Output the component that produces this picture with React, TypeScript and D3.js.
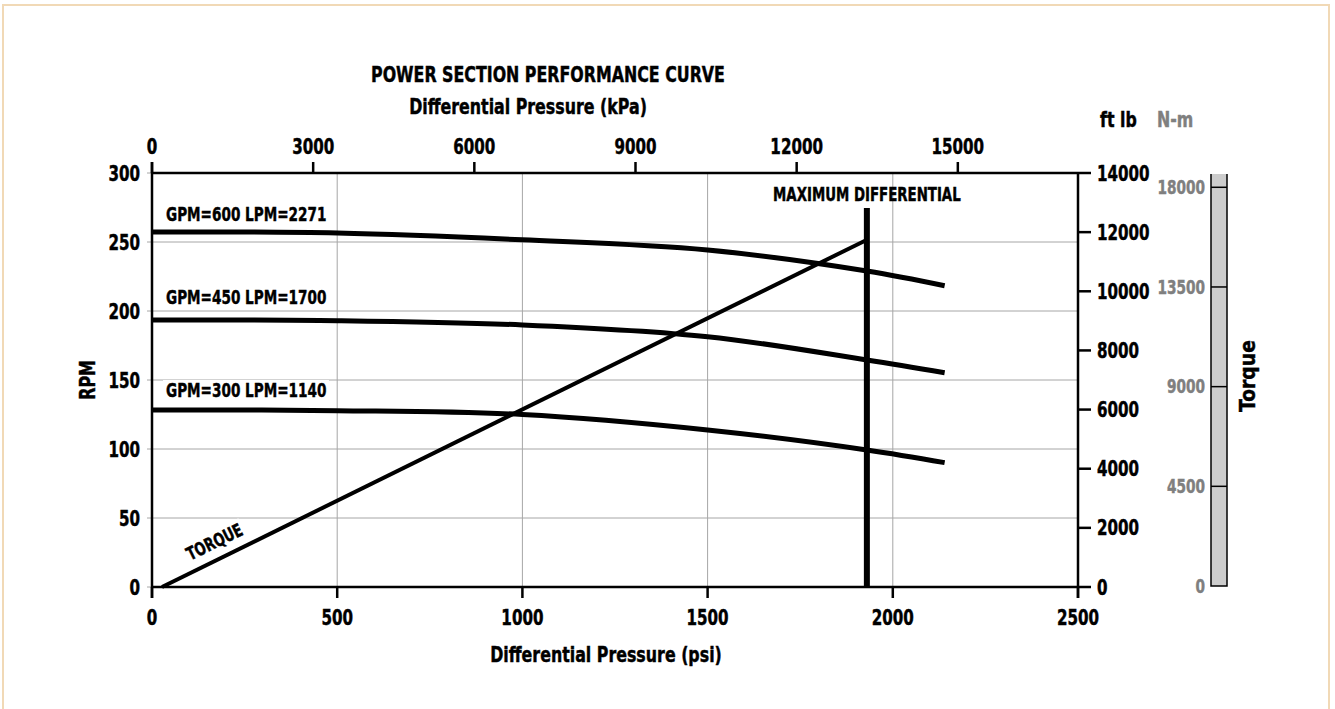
import React, { useEffect, useRef } from 'react';
import * as d3 from 'd3';

// psi positions where the curves were read
const psiPoints = [0, 500, 1000, 1500, 1930, 2140];
const rpm600 = [257.2, 256.5, 251.6, 244.2, 229, 218.3];
const rpm450 = [193.5, 193, 189.9, 181.4, 164.5, 155.3];
const rpm300 = [128.3, 127.8, 125, 113.8, 99.3, 90.1];
const curveLabels = ['GPM=600 LPM=2271', 'GPM=450 LPM=1700', 'GPM=300 LPM=1140'];

// torque (ft lb) against psi
const torquePsi = [27, 1925];
const torqueFtLb = [0, 11710];

const maxDiffPsi = 1930;
const maxDiffTopRpm = 274.6;

const psiTicks = [0, 500, 1000, 1500, 2000, 2500];
const kpaTicks = [0, 3000, 6000, 9000, 12000, 15000];
const rpmTicks = [0, 50, 100, 150, 200, 250, 300];
const ftLbTicks = [0, 2000, 4000, 6000, 8000, 10000, 12000, 14000];
const nmTicks = [0, 4500, 9000, 13500, 18000];
const nmTop = 18600;

const FONT = "'DejaVu Sans Condensed', 'DejaVu Sans', sans-serif";

export default function App() {
  const ref = useRef<SVGSVGElement | null>(null);

  useEffect(() => {
    const svg = d3.select(ref.current);
    svg.selectAll('*').remove();

    const left = 152, right = 1078, top = 173, bottom = 587;
    const x = d3.scaleLinear().domain([0, 2500]).range([left, right]);
    const xKpa = d3.scaleLinear().domain([0, 2500 * 6.89476]).range([left, right]);
    const y = d3.scaleLinear().domain([0, 300]).range([bottom, top]);
    const yFt = d3.scaleLinear().domain([0, 14000]).range([bottom, top]);
    const yNm = d3.scaleLinear().domain([0, nmTop]).range([bottom - 1, top + 1]);

    // frame
    svg.append('rect')
      .attr('x', 3).attr('y', 5).attr('width', 1326).attr('height', 710)
      .attr('fill', 'none').attr('stroke', '#f1d9b6').attr('stroke-width', 2);

    const g = svg.append('g').style('font-family', FONT).style('font-weight', 'bold');

    // grid
    g.append('g').selectAll('line')
      .data(psiTicks.filter(d => d > 0 && d < 2500))
      .join('line')
      .attr('x1', d => x(d)).attr('x2', d => x(d))
      .attr('y1', top).attr('y2', bottom)
      .attr('stroke', '#a6a6a6').attr('stroke-width', 1);
    g.append('g').selectAll('line')
      .data(rpmTicks)
      .join('line')
      .attr('x1', left - 5).attr('x2', d => (d > 0 && d < 300 ? right : left))
      .attr('y1', d => y(d)).attr('y2', d => y(d))
      .attr('stroke', '#a6a6a6').attr('stroke-width', 1);

    // axis lines
    const axis = g.append('g').attr('stroke', '#000').attr('stroke-width', 2.5);
    axis.append('line').attr('x1', left).attr('x2', left).attr('y1', top - 11).attr('y2', bottom + 11);
    axis.append('line').attr('x1', right).attr('x2', right).attr('y1', top).attr('y2', bottom + 11);
    axis.append('line').attr('x1', left).attr('x2', right).attr('y1', top).attr('y2', top);
    axis.append('line').attr('x1', left).attr('x2', right).attr('y1', bottom).attr('y2', bottom);

    axis.selectAll('.bt').data(psiTicks).join('line').attr('class', 'bt')
      .attr('x1', d => x(d)).attr('x2', d => x(d)).attr('y1', bottom).attr('y2', bottom + 11);
    axis.selectAll('.tt').data(kpaTicks).join('line').attr('class', 'tt')
      .attr('x1', d => xKpa(d)).attr('x2', d => xKpa(d)).attr('y1', top - 11).attr('y2', top);
    axis.selectAll('.rt').data(ftLbTicks).join('line').attr('class', 'rt')
      .attr('x1', right).attr('x2', right + 13).attr('y1', d => yFt(d)).attr('y2', d => yFt(d));

    // tick labels
    const tickSize = 21;
    g.append('g').selectAll('text').data(psiTicks).join('text')
      .attr('x', d => x(d)).attr('y', 625).attr('text-anchor', 'middle')
      .attr('font-size', tickSize).text(d => d);
    g.append('g').selectAll('text').data(kpaTicks).join('text')
      .attr('x', d => xKpa(d)).attr('y', 154).attr('text-anchor', 'middle')
      .attr('font-size', tickSize).text(d => d);
    g.append('g').selectAll('text').data(rpmTicks).join('text')
      .attr('x', 140).attr('y', d => y(d)).attr('dy', '0.36em').attr('text-anchor', 'end')
      .attr('font-size', tickSize).text(d => d);
    g.append('g').selectAll('text').data(ftLbTicks).join('text')
      .attr('x', 1097).attr('y', d => yFt(d)).attr('dy', '0.36em').attr('text-anchor', 'start')
      .attr('font-size', tickSize).text(d => d);

    // N-m bar
    const barX0 = 1211, barX1 = 1227;
    g.append('rect')
      .attr('x', barX0).attr('y', yNm(nmTop)).attr('width', barX1 - barX0)
      .attr('height', yNm(0) - yNm(nmTop)).attr('fill', '#cccccc');
    g.append('path')
      .attr('d', `M${barX0},${yNm(nmTop)}V${yNm(0)}H${barX1}V${yNm(nmTop)}`)
      .attr('fill', 'none').attr('stroke', '#000').attr('stroke-width', 1.5);
    g.append('g').selectAll('line').data(nmTicks.filter(d => d > 0)).join('line')
      .attr('x1', barX0).attr('x2', barX1).attr('y1', d => yNm(d)).attr('y2', d => yNm(d))
      .attr('stroke', '#000').attr('stroke-width', 1.5);
    g.append('g').selectAll('text').data(nmTicks).join('text')
      .attr('x', 1205).attr('y', d => yNm(d)).attr('dy', '0.36em').attr('text-anchor', 'end')
      .attr('font-size', 19).attr('fill', '#7f7f7f').text(d => d);

    // unit labels
    g.append('text').attr('x', 1100).attr('y', 127).attr('font-size', 22).text('ft lb');
    g.append('text').attr('x', 1157).attr('y', 127).attr('font-size', 22).attr('fill', '#7f7f7f').text('N-m');
    g.append('text').attr('transform', 'translate(1255,376) rotate(-90)')
      .attr('text-anchor', 'middle').attr('font-size', 22).attr('data-squeeze', 0.95).text('Torque');
    g.append('text').attr('transform', 'translate(95,380) rotate(-90)')
      .attr('text-anchor', 'middle').attr('font-size', 22).text('RPM');

    // titles
    g.append('text').attr('x', 548).attr('y', 82).attr('text-anchor', 'middle')
      .attr('font-size', 22).text('POWER SECTION PERFORMANCE CURVE');
    g.append('text').attr('x', 528).attr('y', 114).attr('text-anchor', 'middle')
      .attr('font-size', 22).text('Differential Pressure (kPa)');
    g.append('text').attr('x', 606).attr('y', 662).attr('text-anchor', 'middle')
      .attr('font-size', 22).text('Differential Pressure (psi)');

    // speed curves
    const line = d3.line<number>()
      .x((d, i) => x(psiPoints[i]))
      .y(d => y(d))
      .curve(d3.curveCatmullRom.alpha(0.5));
    const series = [rpm600, rpm450, rpm300];
    g.append('g').selectAll('path').data(series).join('path')
      .attr('d', d => line(d))
      .attr('fill', 'none').attr('stroke', '#000').attr('stroke-width', 5);

    // curve labels with white backing
    const labelBase = [221, 304, 397];
    const lab = g.append('g').selectAll('g').data(curveLabels).join('g');
    lab.append('rect')
      .attr('x', 163).attr('y', (d, i) => labelBase[i] - 17)
      .attr('width', 166).attr('height', 20).attr('fill', '#fff');
    lab.append('text')
      .attr('x', 166).attr('y', (d, i) => labelBase[i])
      .attr('font-size', 20).attr('data-squeeze', 0.755).text(d => d);

    // torque line
    const torqueLine = d3.line<number>()
      .x((d, i) => x(torquePsi[i]))
      .y(d => yFt(d));
    g.append('path').attr('d', torqueLine(torqueFtLb))
      .attr('fill', 'none').attr('stroke', '#000').attr('stroke-width', 4);

    // torque label along line
    const p0 = [x(torquePsi[0]), yFt(torqueFtLb[0])];
    const p1 = [x(torquePsi[1]), yFt(torqueFtLb[1])];
    const ang = Math.atan2(p1[1] - p0[1], p1[0] - p0[0]) * 180 / Math.PI;
    const lx = x(189), ly = yFt(torqueFtLb[1] * (189 - torquePsi[0]) / (torquePsi[1] - torquePsi[0]));
    const tg = g.append('g').attr('transform', `translate(${lx},${ly}) rotate(${ang}) translate(0,-11)`);
    tg.append('rect').attr('x', -32).attr('y', -17).attr('width', 64).attr('height', 17).attr('fill', '#fff');
    tg.append('text').attr('text-anchor', 'middle').attr('font-size', 18).text('TORQUE');

    // maximum differential
    g.append('line')
      .attr('x1', x(maxDiffPsi)).attr('x2', x(maxDiffPsi))
      .attr('y1', y(maxDiffTopRpm)).attr('y2', bottom)
      .attr('stroke', '#000').attr('stroke-width', 6);
    g.append('text').attr('x', x(maxDiffPsi)).attr('y', 201).attr('text-anchor', 'middle')
      .attr('font-size', 19).attr('data-squeeze', 0.78).text('MAXIMUM DIFFERENTIAL');

    // squeeze the glyphs to a condensed face and thicken them a touch
    g.selectAll<SVGTextElement, unknown>('text').each(function () {
      const f = +(this.getAttribute('data-squeeze') || 0.8);
      const w = this.getComputedTextLength();
      const fill = this.getAttribute('fill') || '#000';
      d3.select(this)
        .attr('textLength', w * f).attr('lengthAdjust', 'spacingAndGlyphs')
        .attr('stroke', fill).attr('stroke-width', 0.45);
    });
  }, []);

  return (
    <div style={{ position: 'absolute', left: 0, top: 0 }}>
      <svg ref={ref} width={1335} height={709} style={{ display: 'block', background: '#fff' }} />
    </div>
  );
}
